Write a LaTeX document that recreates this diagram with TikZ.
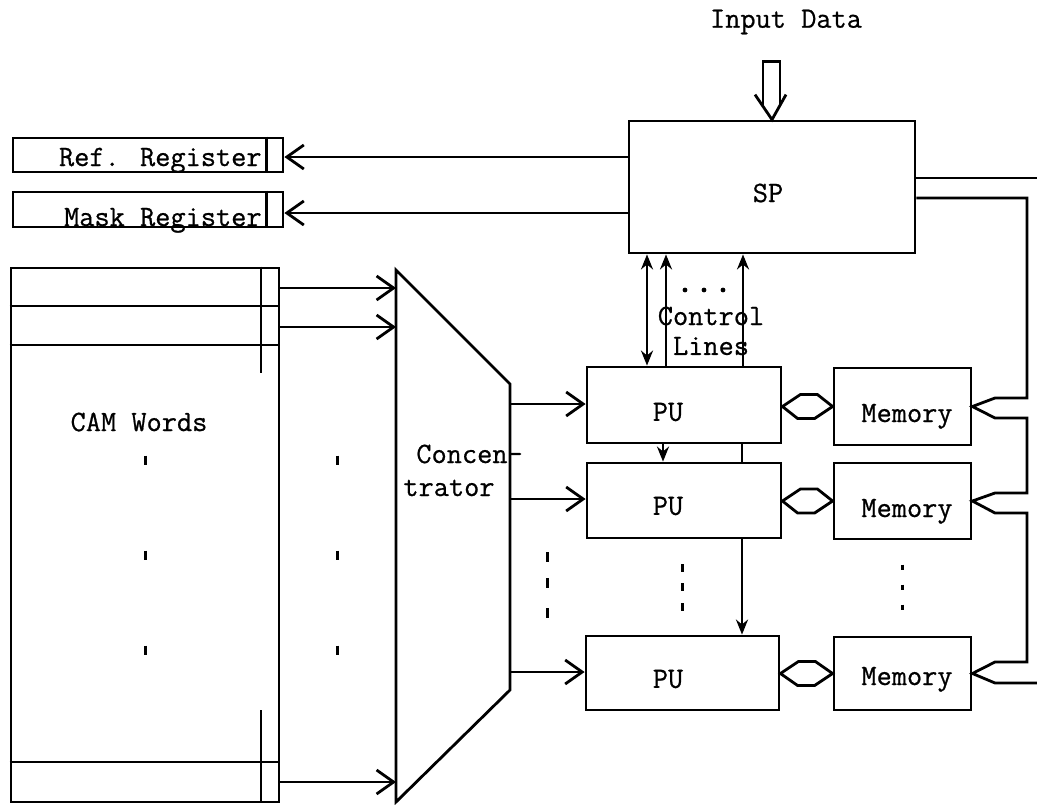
\documentclass[tikz,border=0pt]{standalone}
\usepackage{fontspec}
\newfontfamily\twfont{Latin Modern Mono}[FakeBold=0.7]
\usetikzlibrary{arrows.meta,calc}
\begin{document}
\begin{tikzpicture}[x=1pt,y=-1pt,line width=2.8pt,line join=miter]
\tikzset{
  box/.style={draw,rectangle,inner sep=0pt,line width=2.8pt},
  lbl/.style={font=\twfont\fontsize{29.5}{33}\selectfont,inner sep=0pt},
  barb/.style={-{Straight Barb[length=17pt,width=24pt]}},
  stl/.style={-{Stealth[length=15pt,width=12pt]}},
  stlboth/.style={{Stealth[length=15pt,width=12pt]}-{Stealth[length=15pt,width=12pt]}},
  tick/.style={line width=3pt},
}
\useasboundingbox (0,0) rectangle (1037,804);

% SP and input
\node[box,minimum width=286pt,minimum height=132pt] (sp) at (772,187) {};
\node[lbl] (sptext) at (768,193) {SP};
\node[lbl] (input) at (786,22) {Input Data};
\draw ($(sp.north)+(-9,-13)$) -- ($(sp.north)+(-9,-58)$) -- ($(sp.north)+(8,-58)$) -- ($(sp.north)+(8,-14)$);
\draw ($(sp.north)+(-17,-25)$) -- (sp.north) -- ($(sp.north)+(14,-25)$);

% registers
\node[box,minimum width=270pt,minimum height=34pt] (ref) at (148,155) {};
\draw ($(ref.north east)+(-18,0)$) -- ($(ref.south east)+(-18,0)$);
\node[lbl,anchor=base east] (reftext) at (263,166) {Ref. Register};
\node[box,minimum width=270pt,minimum height=35pt] (mask) at (148,209.5) {};
\draw ($(mask.north east)+(-18,0)$) -- ($(mask.south east)+(-18,0)$);
\node[lbl,anchor=base east] (masktext) at (263,226) {Mask Register};
\draw[barb] (sp.west |- 0,157) -- (ref.east |- 0,157);
\draw[barb] (sp.west |- 0,213) -- (mask.east |- 0,213);

% CAM words
\node[box,minimum width=268pt,minimum height=534pt] (cam) at (145,535) {};
\foreach \yy in {306,345,762} \draw (cam.west |- 0,\yy) -- (cam.east |- 0,\yy);
\draw (261,0 |- cam.north) -- (261,373);
\draw (261,710) -- (261,0 |- cam.south);
\node[lbl] (camtext) at (139,422) {CAM Words};
\foreach \xx in {145,337} \foreach \yy in {460,555,650} \draw[tick] (\xx,\yy-4.5) -- (\xx,\yy+4.5);

% concentrator
\coordinate (c1) at (396,270);
\coordinate (c2) at (510,384);
\coordinate (c3) at (510,690);
\coordinate (c4) at (396,802);
\draw (c1) -- (c2) -- (c3) -- (c4) -- cycle;
\node[lbl,anchor=base west] (conc1) at (415,463) {Concen-};
\node[lbl,anchor=base west] (conc2) at (402,496) {trator};
\foreach \yy in {288,327,782} \draw[barb] (cam.east |- 0,\yy) -- (c1 |- 0,\yy);

% PUs and memories
\node[box,minimum width=194pt,minimum height=76pt] (pu1) at (684,405) {};
\node[box,minimum width=194pt,minimum height=75pt] (pu2) at (684,500.5) {};
\node[box,minimum width=193pt,minimum height=74pt] (pu3) at (682.5,673) {};
\node[lbl] (put1) at (668,412) {PU};
\node[lbl] (put2) at (668,506) {PU};
\node[lbl] (put3) at (668,679) {PU};
\node[box,minimum width=137pt,minimum height=77pt] (mem1) at (902.5,406.5) {};
\node[box,minimum width=137pt,minimum height=76pt] (mem2) at (902.5,501) {};
\node[box,minimum width=137pt,minimum height=73pt] (mem3) at (902.5,673.5) {};
\node[lbl,anchor=base] (memt1) at (907,422) {Memory};
\node[lbl,anchor=base] (memt2) at (907,517) {Memory};
\node[lbl,anchor=base] (memt3) at (907,685) {Memory};

\draw[barb] (c2 |- 0,404) -- (pu1.west |- 0,404);
\draw[barb] (c2 |- 0,499) -- (pu2.west |- 0,499);
\draw[barb] (c2 |- 0,672) -- (pu3.west |- 0,672);

\foreach \p/\m in {pu1/mem1,pu2/mem2,pu3/mem3}
  \draw (\p.east |- \m.west) -- ++(18,-12) -- ++(17,0) -- (\m.west) -- ++(-18,12) -- ++(-17,0) -- cycle;

% SP output bus to memories
\coordinate (busend1) at (1037,178);
\coordinate (busend2) at (1037,683);
\draw (sp.east |- 0,178) -- (busend1);
\draw (sp.east |- 0,198) -- (1027,198) -- (1027,398) -- (995,398) -- (mem1.east) -- (995,418) -- (1027,418)
  -- (1027,493) -- (995,493) -- (mem2.east) -- (995,513) -- (1027,513)
  -- (1027,662) -- (995,662) -- (mem3.east) -- (995,683) -- (busend2);

% control lines
\draw[stlboth] (647,0 |- sp.south) -- (647,0 |- pu1.north);
\draw[stl] (666,0 |- pu1.north) -- (666,0 |- sp.south);
\draw[stl] (743,0 |- pu1.north) -- (743,0 |- sp.south);
\foreach \xx in {685,704,723} \fill (\xx,290) circle (2.4pt);
\node[lbl] (ctl1) at (711,316) {Control};
\node[lbl] (ctl2) at (711,346) {Lines};

% PU chain
\draw[stl] (663,0 |- pu1.south) -- (663,0 |- pu2.north);
\draw (742,0 |- pu1.south) -- (742,0 |- pu2.north);
\draw[stl] (742,0 |- pu2.south) -- (742,0 |- pu3.north);

% ellipsis dots
\foreach \yy in {557,583,613} \draw[tick] (547,\yy-5) -- (547,\yy+5);
\foreach \yy in {568,587,607} \draw[tick] (682,\yy-4) -- (682,\yy+4);
\foreach \yy in {567,587,607} \draw[tick] (902,\yy-2.5) -- (902,\yy+2.5);
\end{tikzpicture}
\end{document}
